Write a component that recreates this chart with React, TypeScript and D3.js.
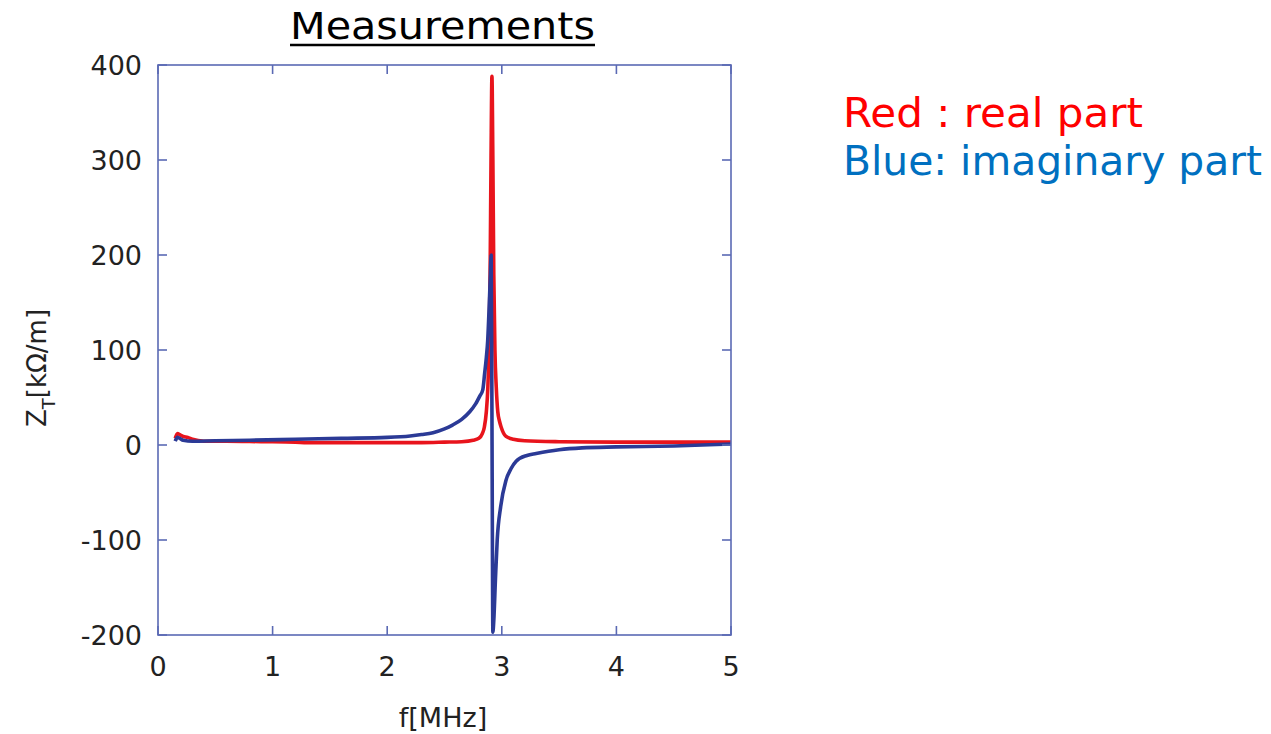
import React from "react";
import * as d3 from "d3";

// Transverse impedance measurement, frequency in MHz, Z in kΩ/m
const realFreq = [0.15, 0.17, 0.19, 0.22, 0.26, 0.3, 0.4, 0.6, 0.9, 1.2, 1.3, 1.7, 2.0, 2.3, 2.5, 2.65, 2.75, 2.8, 2.83, 2.848, 2.865, 2.878, 2.888, 2.898, 2.906, 2.914, 2.922, 2.93, 2.94, 2.952, 2.965, 2.98, 2.994, 3.037, 3.1, 3.2, 3.5, 4.0, 4.5, 5.0];
const realValues = [7, 12, 11, 9, 8, 6, 4, 4, 3.5, 3, 2.5, 2.5, 2.5, 2.5, 3, 3.5, 5, 7, 12, 19, 35, 60, 100, 180, 300, 388, 300, 180, 100, 60, 35, 25, 19, 9, 6, 4.5, 3.5, 3, 3, 3];

const imagFreq = [0.15, 0.17, 0.19, 0.22, 0.3, 0.5, 0.8, 1.2, 1.6, 2.0, 2.2, 2.3, 2.4, 2.5, 2.57, 2.65, 2.72, 2.77, 2.81, 2.834, 2.85, 2.865, 2.877, 2.89, 2.9, 2.907, 2.912, 2.915, 2.918, 2.922, 2.93, 2.945, 2.96, 2.99, 3.037, 3.08, 3.125, 3.22, 3.3, 3.5, 3.7, 4.0, 4.5, 5.0];
const imagValues = [4, 8, 7, 5, 4, 4.5, 5, 6, 7, 8, 9.5, 11, 13, 17, 21, 27, 35, 43, 52, 58, 75, 92, 110, 146, 178, 200, 100, 0, -100, -197, -185, -140, -100, -65, -37, -25, -17, -11, -9, -5, -3, -2, -1, 1];

const xTicks = [0, 1, 2, 3, 4, 5];
const yTicks = [-200, -100, 0, 100, 200, 300, 400];

const FRAME = "#5b6ab4";
const RED = "#e8141c";
const BLUE = "#2b3a96";
const FONT = "'DejaVu Sans', 'Noto Sans', sans-serif";

export default function App() {
  const left = 158, right = 731, top = 65, bottom = 635;
  const x = d3.scaleLinear().domain([0, 5]).range([left, right]);
  const y = d3.scaleLinear().domain([-200, 400]).range([bottom, top]);

  const line = d3
    .line<[number, number]>()
    .x((d) => x(d[0]))
    .y((d) => y(d[1]))
    .curve(d3.curveMonotoneX);

  const realPath = line(realFreq.map((f, i) => [f, realValues[i]]) as [number, number][]) || "";
  const imagPath = line(imagFreq.map((f, i) => [f, imagValues[i]]) as [number, number][]) || "";

  const tickLen = 9;

  return (
    <svg width={1271} height={734} style={{ position: "absolute", left: 0, top: 0, background: "#fff" }}>
      <rect x={0} y={0} width={1271} height={734} fill="#fff" />

      {/* Title */}
      <text x={290} y={39} fontFamily={FONT} fontSize={38} fill="#000" textLength={305} lengthAdjust="spacingAndGlyphs">
        Measurements
      </text>
      <line x1={290} x2={595} y1={45} y2={45} stroke="#000" strokeWidth={2.5} />

      <defs>
        <clipPath id="plotClip">
          <rect x={left} y={top} width={right - left} height={bottom - top} />
        </clipPath>
      </defs>

      {/* Data curves */}
      <g clipPath="url(#plotClip)">
        <path d={realPath} fill="none" stroke={RED} strokeWidth={3.6} strokeLinejoin="round" />
        <path d={imagPath} fill="none" stroke={BLUE} strokeWidth={3.6} strokeLinejoin="round" />
      </g>

      {/* Frame */}
      <rect x={left} y={top} width={right - left} height={bottom - top} fill="none" stroke={FRAME} strokeWidth={1.6} />

      {/* X ticks on bottom and top, pointing inward */}
      {xTicks.map((t) => (
        <g key={"x" + t}>
          <line x1={x(t)} x2={x(t)} y1={bottom} y2={bottom - tickLen} stroke={FRAME} strokeWidth={1.6} />
          <line x1={x(t)} x2={x(t)} y1={top} y2={top + tickLen} stroke={FRAME} strokeWidth={1.6} />
          <text x={x(t)} y={676} textAnchor="middle" fontFamily={FONT} fontSize={27} fill="#222">
            {t}
          </text>
        </g>
      ))}

      {/* Y ticks on left and right, pointing inward */}
      {yTicks.map((t) => (
        <g key={"y" + t}>
          <line x1={left} x2={left + tickLen} y1={y(t)} y2={y(t)} stroke={FRAME} strokeWidth={1.6} />
          <line x1={right} x2={right - tickLen} y1={y(t)} y2={y(t)} stroke={FRAME} strokeWidth={1.6} />
          <text x={142} y={y(t) + 10} textAnchor="end" fontFamily={FONT} fontSize={27} fill="#222">
            {t}
          </text>
        </g>
      ))}

      {/* Axis titles */}
      <text x={443} y={727} textAnchor="middle" fontFamily={FONT} fontSize={27} fill="#222">
        f[MHz]
      </text>
      <text transform="translate(46,368) rotate(-90)" textAnchor="middle" fontFamily={FONT} fontSize={26} fill="#222">
        Z
        <tspan fontSize={18} dy={9}>T</tspan>
        <tspan dy={-9}>[kΩ/m]</tspan>
      </text>

      {/* Legend notes */}
      <text x={843} y={127} fontFamily={FONT} fontSize={40} fill="#ff0000" textLength={300} lengthAdjust="spacingAndGlyphs">
        Red : real part
      </text>
      <text x={843} y={175} fontFamily={FONT} fontSize={40} fill="#0070c0" textLength={419} lengthAdjust="spacingAndGlyphs">
        Blue: imaginary part
      </text>
    </svg>
  );
}
